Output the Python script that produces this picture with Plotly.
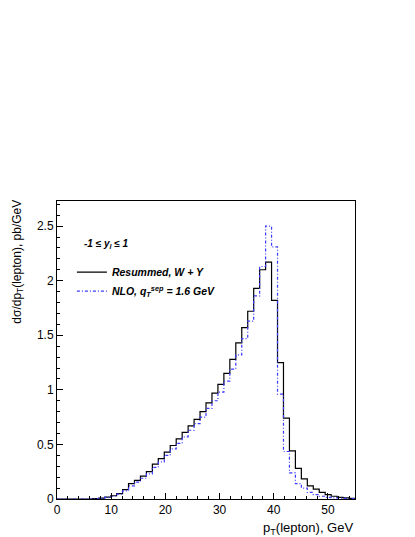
import plotly.graph_objects as go

# 50 bins of 1.1 GeV from 0 to 55
bin_width = 1.1
n_bins = 50

# Resummed, W + Y (black solid)
resummed = [
    0, 0, 0, 0, 0, 0, 0.003, 0.008, 0.018, 0.03,
    0.05, 0.085, 0.14, 0.17, 0.21, 0.25, 0.32, 0.37, 0.43, 0.49,
    0.55, 0.61, 0.67, 0.73, 0.80, 0.88, 0.97, 1.05, 1.15, 1.28,
    1.43, 1.57, 1.72, 1.93, 2.10, 2.17, 1.82, 1.25, 0.74, 0.44,
    0.28, 0.185, 0.12, 0.09, 0.06, 0.04, 0.025, 0.015, 0.01, 0.005,
]

# NLO, qT^sep = 1.6 GeV (blue dotted)
nlo = [
    0, 0, 0, 0, 0, 0, 0.002, 0.006, 0.014, 0.025,
    0.045, 0.075, 0.12, 0.155, 0.19, 0.23, 0.29, 0.34, 0.40, 0.46,
    0.51, 0.57, 0.63, 0.69, 0.75, 0.83, 0.90, 0.98, 1.08, 1.19,
    1.32, 1.47, 1.63, 1.86, 2.13, 2.50, 2.31, 0.96, 0.435, 0.24,
    0.14, 0.10, 0.06, 0.04, 0.025, 0.015, 0.01, 0.007, 0.005, 0.003,
]

edges = [round(i * bin_width, 2) for i in range(n_bins + 1)]

font = "Liberation Sans, Arial, Helvetica, sans-serif"

fig = go.Figure()

fig.add_trace(go.Scatter(
    x=edges, y=resummed + [resummed[-1]],
    mode='lines', line_shape='hv',
    line=dict(color='black', width=1.2),
    name='<b><i>Resummed, W + Y</i></b>',
))

fig.add_trace(go.Scatter(
    x=edges, y=nlo + [nlo[-1]],
    mode='lines', line_shape='hv',
    line=dict(color='#3b3bff', width=1.2, dash='3px,2px,1px,2px'),
    name='<b><i>NLO, q<sub>T</sub><sup>sep</sup> = 1.6 GeV</i></b>',
))

fig.add_annotation(
    x=0.085, y=0.856, xref='paper', yref='paper',
    text='<b><i>-1 \u2264 y<sub>l</sub> \u2264 1</i></b>',
    showarrow=False, xanchor='left', yanchor='middle',
    font=dict(size=10, color='black', family=font),
)

# axis titles placed like the original (ROOT style, right/top aligned)
fig.add_annotation(
    x=1.0, y=-0.065, xref='paper', yref='paper',
    text='p<sub>T</sub>(lepton), GeV',
    showarrow=False, xanchor='right', yanchor='top',
    font=dict(size=13, color='black', family=font),
)
fig.add_annotation(
    x=-0.132, y=1.01, xref='paper', yref='paper',
    text='d\u03c3/dp<sub>T</sub>(lepton), pb/GeV',
    textangle=-90,
    showarrow=False, xanchor='center', yanchor='top',
    font=dict(size=12, color='black', family=font),
)

# page body has an 8px margin, so the figure is 8px smaller than the window
fig.update_layout(
    width=407, height=529,
    margin=dict(l=49, r=60, t=193, b=38),
    paper_bgcolor='white', plot_bgcolor='white',
    font=dict(family=font, size=12, color='black'),
    showlegend=True,
    legend=dict(
        x=0.05, y=0.81, xanchor='left', yanchor='top',
        bgcolor='rgba(0,0,0,0)', borderwidth=0,
        font=dict(size=10.5, family=font),
        itemwidth=30, tracegroupgap=0,
    ),
)

fig.update_xaxes(
    range=[0, 55], tick0=0, dtick=10,
    ticks='inside', ticklen=6, tickcolor='black',
    minor=dict(dtick=2, ticks='inside', ticklen=3, tickcolor='black'),
    showline=True, linecolor='black', linewidth=1, mirror=True,
    showgrid=False, zeroline=False,
    tickfont=dict(size=12),
)
fig.update_yaxes(
    range=[0, 2.73], tick0=0, dtick=0.5,
    ticks='inside', ticklen=6, tickcolor='black',
    minor=dict(dtick=0.1, ticks='inside', ticklen=3, tickcolor='black'),
    showline=True, linecolor='black', linewidth=1, mirror=True,
    showgrid=False, zeroline=False,
    tickfont=dict(size=12),
)

fig.write_html("out.html")
